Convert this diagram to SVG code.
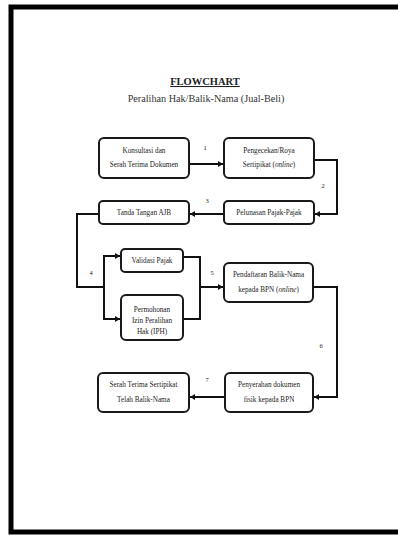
<svg xmlns="http://www.w3.org/2000/svg" width="398" height="535" viewBox="0 0 398 535">
<style>
.box{fill:#fff;stroke:#1a1a1a;stroke-width:2}
.t{font-family:"Liberation Serif","Times New Roman",serif;font-size:7.2px;fill:#222;text-anchor:middle}
.n{font-family:"Liberation Serif","Times New Roman",serif;font-size:6.5px;fill:#222;text-anchor:middle}
.c{fill:none;stroke:#111;stroke-width:2}
</style>
<defs>
<marker id="ah" markerWidth="6" markerHeight="6" refX="5" refY="3" orient="auto" markerUnits="userSpaceOnUse">
<path d="M0,0 L5,3 L0,6 Z" fill="#111"/>
</marker>
</defs>
<rect x="0" y="0" width="398" height="535" fill="#fff"/>
<rect x="11" y="7" width="400" height="525" fill="none" stroke="#000" stroke-width="5"/>
<g id="title">
<text x="205" y="85" font-family="Liberation Serif,'Times New Roman',serif" font-size="10.5" font-weight="bold" fill="#222" text-anchor="middle" text-decoration="underline">FLOWCHART</text>
<text x="206" y="102" font-family="Liberation Serif,'Times New Roman',serif" font-size="10.2" fill="#333" text-anchor="middle">Peralihan Hak/Balik-Nama (Jual-Beli)</text>
</g>
<g id="connectors">
<path class="c" d="M189,164 H223" marker-end="url(#ah)"/>
<path class="c" d="M314,160 H337 V214 H315" marker-end="url(#ah)"/>
<path class="c" d="M224,214 H190" marker-end="url(#ah)"/>
<path class="c" d="M99,214 H77 V287 H104"/>
<path class="c" d="M104,287 V256 H120" marker-end="url(#ah)"/>
<path class="c" d="M104,287 V319 H120" marker-end="url(#ah)"/>
<path class="c" d="M183,257 H200 V319 H183"/>
<path class="c" d="M200,287 H223" marker-end="url(#ah)"/>
<path class="c" d="M313,287 H337 V397 H314" marker-end="url(#ah)"/>
<path class="c" d="M225,397 H190" marker-end="url(#ah)"/>
<text class="n" x="205" y="150">1</text>
<text class="n" x="323" y="188">2</text>
<text class="n" x="207" y="203">3</text>
<text class="n" x="91" y="275">4</text>
<text class="n" x="212" y="275">5</text>
<text class="n" x="321" y="348">6</text>
<text class="n" x="207" y="382">7</text>
</g>
<g id="n1">
<rect class="box" x="99" y="138" width="90" height="40" rx="5"/>
<text class="t" x="144" y="153">Konsultasi dan</text>
<text class="t" x="144" y="167">Serah Terima Dokumen</text>
</g>
<g id="n2">
<rect class="box" x="224" y="138" width="90" height="40" rx="5"/>
<text class="t" x="269" y="153">Pengecekan/Roya</text>
<text class="t" x="269" y="167">Sertipikat (<tspan font-style="italic">online</tspan>)</text>
</g>
<g id="n3">
<rect class="box" x="224" y="201" width="90" height="23" rx="4"/>
<text class="t" x="269" y="215">Pelunasan Pajak-Pajak</text>
</g>
<g id="n4">
<rect class="box" x="99" y="201" width="90" height="23" rx="4"/>
<text class="t" x="144" y="215">Tanda Tangan AJB</text>
</g>
<g id="n5">
<rect class="box" x="121" y="249" width="62" height="23" rx="4"/>
<text class="t" x="152" y="263">Validasi Pajak</text>
</g>
<g id="n6">
<rect class="box" x="121" y="295" width="62" height="45" rx="5"/>
<text class="t" x="152" y="312">Permohonan</text>
<text class="t" x="152" y="323">Izin Peralihan</text>
<text class="t" x="152" y="334">Hak (IPH)</text>
</g>
<g id="n7">
<rect class="box" x="224" y="263" width="89" height="39" rx="5"/>
<text class="t" x="268.5" y="277">Pendaftaran Balik-Nama</text>
<text class="t" x="268.5" y="292">kepada BPN (<tspan font-style="italic">online</tspan>)</text>
</g>
<g id="n8">
<rect class="box" x="225" y="373" width="88" height="39" rx="5"/>
<text class="t" x="269" y="387">Penyerahan dokumen</text>
<text class="t" x="269" y="402">fisik kepada BPN</text>
</g>
<g id="n9">
<rect class="box" x="98" y="373" width="91" height="39" rx="5"/>
<text class="t" x="143.5" y="387">Serah Terima Sertipikat</text>
<text class="t" x="143.5" y="402">Telah Balik-Nama</text>
</g>
</svg>
